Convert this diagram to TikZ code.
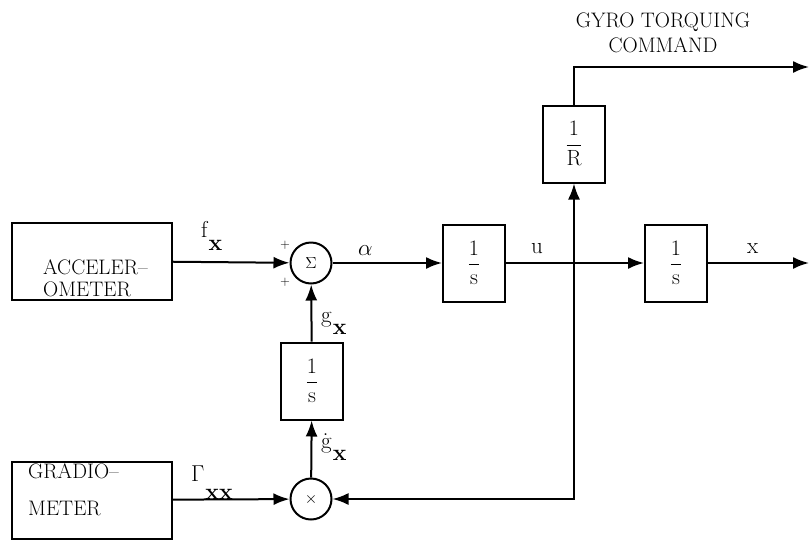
\RequirePackage{fix-cm}
\documentclass[tikz,border=0pt]{standalone}
\usepackage{amsmath}
\usepackage{fontspec}
\usepackage{tikz}
\usetikzlibrary{arrows.meta, positioning}

\newcommand{\bigtxt}{\fontsize{21}{22}\selectfont}
\newcommand{\lowsub}[3]{#1\kern1pt\raisebox{-#3}{\textbf{#2}}}

\begin{document}
\begin{tikzpicture}[
    x=1pt, y=-1pt,
    block/.style={draw, line width=2pt, minimum width=62pt, minimum height=77pt, align=center, font=\fontsize{22}{26}\selectfont},
    wide/.style={block, minimum width=160pt},
    boxtext/.style={anchor=base west, align=left, inner sep=0pt, font=\bigtxt},
    junction/.style={draw, circle, line width=2pt, minimum size=41pt, inner sep=0pt, font=\fontsize{16}{18}\selectfont},
    arrow/.style={-{Latex[length=16pt, width=12pt]}, line width=2pt},
    lbl/.style={font=\fontsize{23}{24}\selectfont, inner sep=0pt, anchor=base west}
]
\useasboundingbox (0,0) rectangle (810,541);

\node[wide] (accel) at (92,261) {};
\node[boxtext] (acceltext) at (43,296) {ACCELER--\\OMETER};
\node[junction] (sum) at (311,263) {$\Sigma$};
\node[block] (int1) at (474,263) {$\dfrac{1}{\mathrm{s}}$};
\node[block] (int2) at (676,263) {$\dfrac{1}{\mathrm{s}}$};
\node[block] (gain) at (574,144) {$\dfrac{1}{\mathrm{R}}$};
\node[block] (int3) at (312,381) {$\dfrac{1}{\mathrm{s}}$};
\node[junction] (mult) at (311,499) {$\times$};
\node[wide] (grad) at (92,500) {};
\node[boxtext] (gradtext) at (28,515) {GRADIO--\\[15pt]METER};

\coordinate (branch) at (574,263);
\coordinate (xout) at (809,263);
\coordinate (cmdout) at (809,67);

% signal paths
\draw[arrow] (accel) -- (sum);
\draw[arrow] (sum) -- (int1);
\draw[arrow] (int1) -- (int2);
\draw[arrow] (int2) -- (xout);
\draw[arrow] (branch) -- (gain);
\draw[arrow] (gain.north) |- (cmdout);
\draw[arrow] (branch) |- (mult.east);
\draw[arrow] (grad) -- (mult);
\draw[arrow] (mult) -- (int3);
\draw[arrow] (int3) -- (sum);

% labels
\node[lbl] (fx) at (201,237) {\lowsub{f}{x}{13pt}};
\node[lbl] (alpha) at (358,255) {$\alpha$};
\node[lbl] (u) at (531,253) {u};
\node[lbl] (x) at (747,253) {x};
\node[lbl] (gx) at (321,322) {\lowsub{g}{x}{12pt}};
\node[lbl] (gdx) at (321,448) {\lowsub{\.g}{x}{12pt}};
\node[lbl] (gam) at (191,481) {\lowsub{$\Gamma$}{xx}{18pt}};
\node[font=\fontsize{13}{15}\selectfont] (plus1) at (285,245) {$+$};
\node[font=\fontsize{13}{15}\selectfont] (plus2) at (285,282) {$+$};
\node[font=\fontsize{21}{25}\selectfont, align=center, anchor=base] (cmd) at (663,52) {GYRO TORQUING\\COMMAND};
\end{tikzpicture}
\end{document}
